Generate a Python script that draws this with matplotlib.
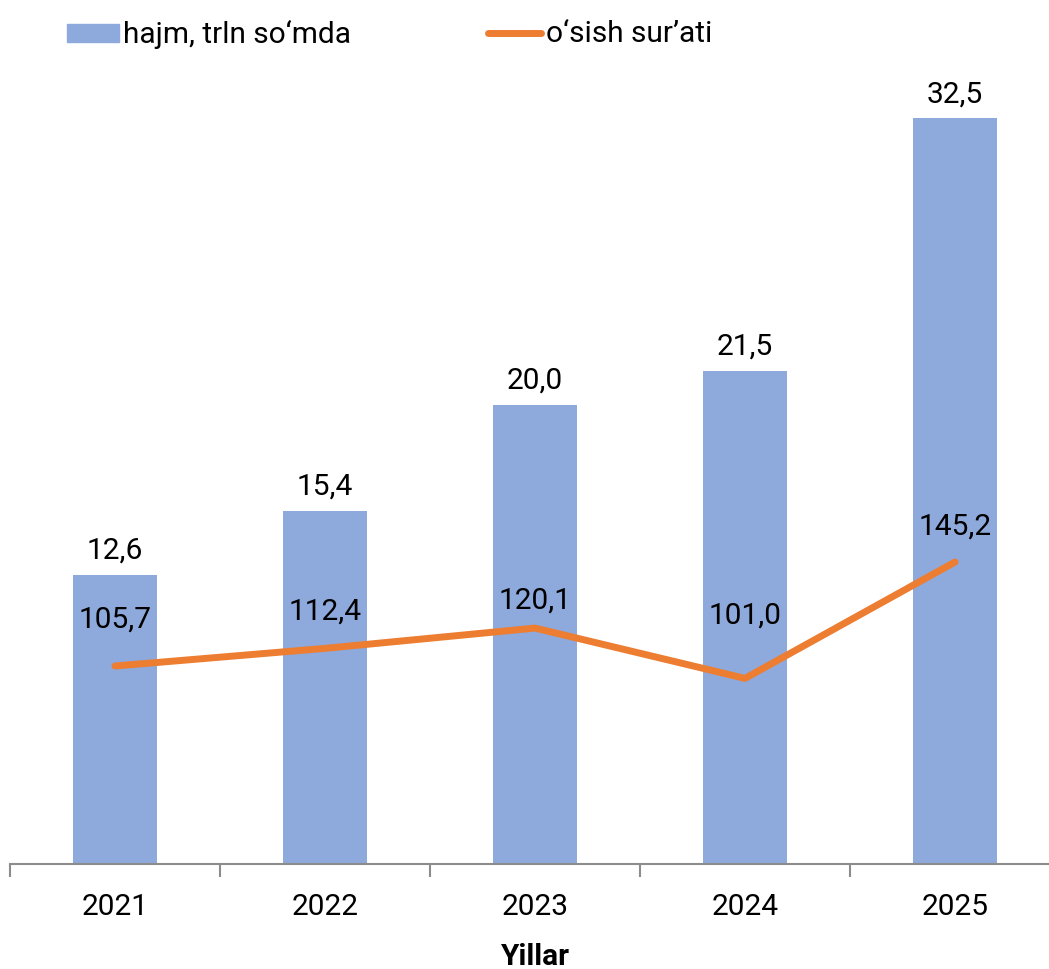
import matplotlib.pyplot as plt
import numpy as np

plt.rcParams['font.family'] = ['Roboto', 'DejaVu Sans']

years = ['2021', '2022', '2023', '2024', '2025']
volume = [12.6, 15.4, 20.0, 21.5, 32.5]
growth = [105.7, 112.4, 120.1, 101.0, 145.2]
vol_labels = ['12,6', '15,4', '20,0', '21,5', '32,5']
gr_labels = ['105,7', '112,4', '120,1', '101,0', '145,2']

bar_color = '#8EA9DB'
line_color = '#ED7D31'
fs = 21.5

W, H = 1049, 970
fig = plt.figure(figsize=(W / 100, H / 100), dpi=100)
ax = fig.add_axes([10 / W, 105 / H, 1050 / W, 803 / H])
x = np.arange(len(years))

ax.bar(x, volume, width=0.4, color=bar_color, zorder=2)
ax.set_xlim(-0.5, 4.5)
ax.set_ylim(0, 35)
for s in ['top', 'right', 'left']:
    ax.spines[s].set_visible(False)
ax.spines['bottom'].set_color('#8c8c8c')
ax.spines['bottom'].set_linewidth(1.5)
ax.set_yticks([])
ax.set_xticks(x)
ax.set_xticklabels(years, fontsize=fs)
ax.tick_params(axis='x', which='major', length=0, pad=20)
ax.set_xticks(np.arange(-0.5, 5, 1), minor=True)
ax.tick_params(axis='x', which='minor', length=9, width=1.5, color='#8c8c8c')
ax.set_xlabel('Yillar', fontsize=fs, fontweight='bold', labelpad=16)

for xi, v, t in zip(x, volume, vol_labels):
    ax.annotate(t, (xi, v), xytext=(0, 8), textcoords='offset points',
                ha='center', va='bottom', fontsize=fs)

ax2 = ax.twinx()
ax2.plot(x, growth, color=line_color, lw=5, solid_capstyle='round', zorder=3)
ax2.set_ylim(30.5, 335.5)
ax2.set_yticks([])
for s in ax2.spines.values():
    s.set_visible(False)

# label offsets above the points, in px
offs = [47, 38, 29, 64, 36]
for xi, v, t, o in zip(x, growth, gr_labels, offs):
    ax2.annotate(t, (xi, v), xytext=(0, o * 0.72), textcoords='offset points',
                 ha='center', va='center', fontsize=fs)

# legend
fig.patches.append(plt.Rectangle((67 / W, 1 - 43 / H), 52 / W, 18 / H,
                                 transform=fig.transFigure, color=bar_color))
fig.text(123 / W, 1 - 34 / H, 'hajm, trln so\u2018mda', fontsize=fs, va='center')
fig.add_artist(plt.Line2D([488 / W, 541 / W], [1 - 34 / H, 1 - 34 / H],
                          transform=fig.transFigure, color=line_color, lw=5,
                          solid_capstyle='round'))
fig.text(546 / W, 1 - 34 / H, 'o\u2018sish sur\u2019ati', fontsize=fs, va='center')

fig.savefig('out.png', dpi=100)
